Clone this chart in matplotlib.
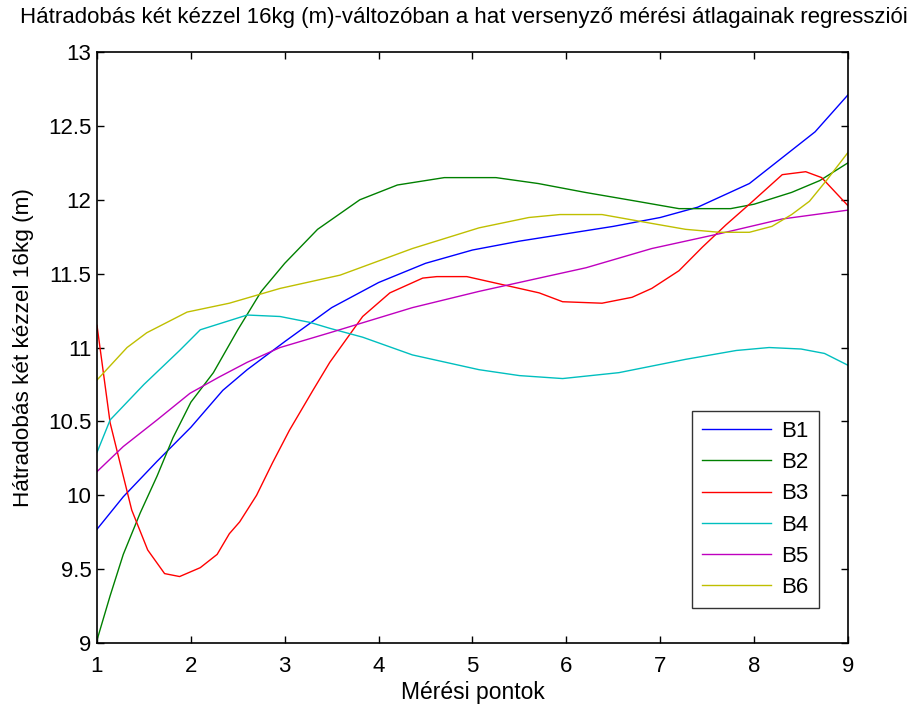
import matplotlib
matplotlib.use("Agg")
import matplotlib.pyplot as plt

plt.rcParams["font.family"] = ["Liberation Sans", "DejaVu Sans"]

b1_x = [1, 1.28, 1.64, 2, 2.34, 2.6, 3, 3.5, 4, 4.5, 5, 5.5, 6, 6.5, 7, 7.4, 7.95, 8.35, 8.65, 9]
b1_y = [9.77, 9.99, 10.23, 10.46, 10.71, 10.85, 11.04, 11.27, 11.44, 11.57, 11.66, 11.72, 11.77, 11.82, 11.88, 11.95, 12.11, 12.31, 12.46, 12.71]

b2_x = [1, 1.14, 1.28, 1.46, 1.64, 1.81, 2, 2.24, 2.5, 2.75, 3, 3.35, 3.8, 4.2, 4.7, 5.25, 5.7, 6.2, 6.75, 7.2, 7.75, 8, 8.4, 8.7, 9]
b2_y = [9.02, 9.32, 9.6, 9.88, 10.13, 10.39, 10.63, 10.83, 11.12, 11.38, 11.57, 11.8, 12.0, 12.1, 12.15, 12.15, 12.11, 12.05, 11.99, 11.94, 11.94, 11.97, 12.05, 12.13, 12.25]

b3_x = [1, 1.14, 1.245, 1.37, 1.54, 1.72, 1.88, 2.1, 2.28, 2.41, 2.52, 2.7, 2.87, 3.05, 3.3, 3.48, 3.83, 4.12, 4.47, 4.62, 4.94, 5.43, 5.71, 5.96, 6.38, 6.7, 6.91, 7.2, 7.45, 7.7, 7.95, 8.3, 8.55, 8.72, 9]
b3_y = [11.15, 10.49, 10.22, 9.9, 9.63, 9.47, 9.45, 9.51, 9.6, 9.74, 9.82, 10.0, 10.22, 10.44, 10.71, 10.9, 11.21, 11.37, 11.47, 11.48, 11.48, 11.41, 11.37, 11.31, 11.3, 11.34, 11.4, 11.52, 11.68, 11.83, 11.97, 12.17, 12.19, 12.15, 11.96]

b4_x = [1, 1.14, 1.5, 1.88, 2.1, 2.6, 2.95, 3.27, 3.48, 3.83, 4.36, 5.07, 5.5, 5.96, 6.56, 7.27, 7.81, 8.16, 8.5, 8.75, 9]
b4_y = [10.29, 10.51, 10.75, 10.98, 11.12, 11.22, 11.21, 11.17, 11.13, 11.07, 10.95, 10.85, 10.81, 10.79, 10.83, 10.92, 10.98, 11.0, 10.99, 10.96, 10.88]

b5_x = [1, 1.28, 1.64, 1.99, 2.3, 2.6, 2.95, 3.48, 4.36, 5.07, 5.71, 6.21, 6.91, 7.63, 8.3, 9]
b5_y = [10.16, 10.33, 10.51, 10.69, 10.8, 10.9, 11.0, 11.1, 11.27, 11.38, 11.47, 11.54, 11.67, 11.77, 11.87, 11.93]

b6_x = [1, 1.32, 1.53, 1.96, 2.41, 2.95, 3.59, 4.36, 5.07, 5.6, 5.93, 6.38, 6.91, 7.27, 7.63, 7.95, 8.19, 8.4, 8.59, 8.77, 9]
b6_y = [10.78, 11.0, 11.1, 11.24, 11.3, 11.4, 11.49, 11.67, 11.81, 11.88, 11.9, 11.9, 11.84, 11.8, 11.78, 11.78, 11.82, 11.9, 11.99, 12.13, 12.32]

labels = ["B1", "B2", "B3", "B4", "B5", "B6"]
colors = ["#0000ff", "#008000", "#ff0000", "#00bfbf", "#bf00bf", "#bfbf00"]
series = [(b1_x, b1_y), (b2_x, b2_y), (b3_x, b3_y), (b4_x, b4_y), (b5_x, b5_y), (b6_x, b6_y)]

fig = plt.figure(figsize=(9.22, 7.04), dpi=100)
ax = fig.add_axes([0.1052, 0.0866, 0.8145, 0.8395])

for (xs, ys), lab, col in zip(series, labels, colors):
    ax.plot(xs, ys, color=col, linewidth=1.0, label=lab)

ax.set_xlim(1, 9)
ax.set_ylim(9, 13)
ax.set_xticks(range(1, 10))
ax.set_yticks([9, 9.5, 10, 10.5, 11, 11.5, 12, 12.5, 13])
ax.set_yticklabels(["9", "9.5", "10", "10.5", "11", "11.5", "12", "12.5", "13"])
ax.tick_params(direction="in", top=True, right=True, length=5, width=1, labelsize=16)
ax.tick_params(axis="x", pad=9)
ax.tick_params(axis="y", pad=4)
for s in ax.spines.values():
    s.set_linewidth(1.2)

fig.text(464 / 922, 1 - 18 / 704,
         "Hátradobás két kézzel 16kg (m)-változóban a hat versenyző mérési átlagainak regressziói",
         fontsize=16.0, ha="center", va="center")
ax.set_xlabel("Mérési pontok", fontsize=16.5, labelpad=3)
ax.set_ylabel("Hátradobás két kézzel 16kg (m)", fontsize=16.2, labelpad=10)

leg = ax.legend(loc="lower right", bbox_to_anchor=(0.961, 0.059), borderaxespad=0,
                fancybox=False, edgecolor="black", fontsize=16, handlelength=3.1,
                labelspacing=0.46, borderpad=0.45, handletextpad=0.45)
leg.get_frame().set_linewidth(1.0)

fig.savefig("out.png", dpi=100, facecolor="white")
